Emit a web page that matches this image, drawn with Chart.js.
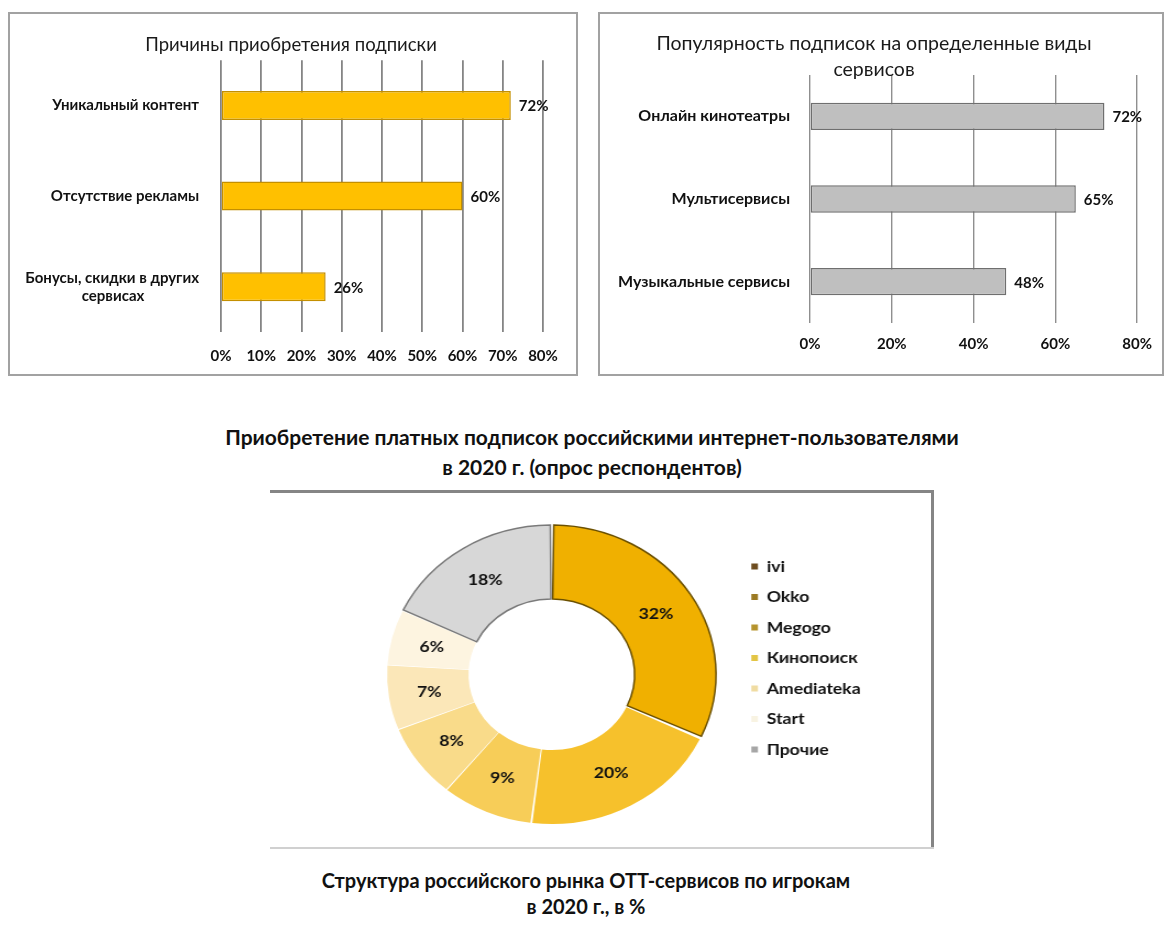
<!DOCTYPE html>
<html>
<head>
<meta charset="utf-8">
<script src="https://cdn.jsdelivr.net/npm/chart.js@4.4.1/dist/chart.umd.min.js"></script>
<style>
  html, body { margin: 0; padding: 0; background: #ffffff; }
  body { width: 1169px; height: 937px; position: relative; overflow: hidden; font-family: Lato, "Open Sans", sans-serif; color: #111; }
  .abs { position: absolute; }
  .panel { position: absolute; box-sizing: border-box; border: 2px solid #a2a2a2; }
  .heading { position: absolute; text-align: center; font-weight: bold; color: #111; }
</style>
</head>
<body>
<div class="panel" style="left:8px;top:12px;width:570px;height:364px;"></div>
<div class="panel" style="left:598px;top:12px;width:566px;height:364px;"></div>
<canvas id="reasons" class="abs" style="left:8px;top:12px;"></canvas>
<canvas id="services" class="abs" style="left:598px;top:12px;"></canvas>

<div id="midTitle" class="heading" style="left:92px;top:422px;width:1000px;font-size:21px;line-height:30px;"></div>
<div class="abs" style="left:270px;top:490px;width:664px;height:3px;background:#858585;"></div>
<div class="abs" style="left:931px;top:490px;width:3px;height:359px;background:#858585;"></div>
<div class="abs" style="left:270px;top:847px;width:664px;height:2px;background:#d0d0d0;"></div>
<canvas id="players" class="abs" style="left:270px;top:493px;transform:scaleX(1.1);transform-origin:282px 50%;"></canvas>
<div id="botTitle" class="heading" style="left:86px;top:867px;width:1000px;font-size:20px;line-height:26px;"></div>

<script>
// ---------------- data ----------------
const reasonTitle = 'Причины приобретения подписки';
const reasonCategories = ['Уникальный контент', 'Отсутствие рекламы', ['Бонусы, скидки в других', 'сервисах']];
const reasonValues = [72, 60, 26];
const reasonTicks = [0, 10, 20, 30, 40, 50, 60, 70, 80];

const serviceTitle = ['Популярность подписок на определенные виды', 'сервисов'];
const serviceCategories = ['Онлайн кинотеатры', 'Мультисервисы', 'Музыкальные сервисы'];
const serviceValues = [72, 65, 48];
const serviceTicks = [0, 20, 40, 60, 80];

const surveyHeading = ['Приобретение платных подписок российскими интернет-пользователями', 'в 2020 г. (опрос респондентов)'];
const playerLabels = ['ivi', 'Okko', 'Megogo', 'Кинопоиск', 'Amediateka', 'Start', 'Прочие'];
const playerShares = [32, 20, 9, 8, 7, 6, 18];
const marketHeading = ['Структура российского рынка ОТТ-сервисов по игрокам', 'в 2020 г., в %'];

// ---------------- styles ----------------
const FONT = 'Lato, "Open Sans", sans-serif';
const sliceColors = ['#f0b000', '#f6c12c', '#f7cd58', '#f9db8a', '#fbe7b8', '#fdf4e0', '#d7d7d7'];
const sliceBorders = ['#6b5000', '#ffffff', '#ffffff', '#ffffff', '#ffffff', '#ffffff', '#7a7a7a'];
const sliceBorderWidths = [1.5, 0, 0, 0, 0, 0, 1.5];
const legendSwatches = ['#6d4c1f', '#9b7a23', '#b5932c', '#e3c544', '#f0dca2', '#f8f3e2', '#a6a6a6'];

document.getElementById('midTitle').innerHTML = surveyHeading.join('<br>');
document.getElementById('botTitle').innerHTML = marketHeading.join('<br>');

Chart.defaults.font.family = FONT;
Chart.defaults.color = '#111';
Chart.defaults.animation = false;

const measureCtx = document.createElement('canvas').getContext('2d');
function centerLines(lines, font) {
  // pad shorter lines with trailing spaces so a right-aligned block looks centred
  measureCtx.font = font;
  const widths = lines.map(l => measureCtx.measureText(l).width);
  const maxW = Math.max(...widths);
  const sp = measureCtx.measureText('\u00A0').width;
  return lines.map((l, i) => l + '\u00A0'.repeat(Math.round((maxW - widths[i]) / 2 / sp)));
}

const barValueLabels = {
  id: 'barValueLabels',
  afterDatasetsDraw(chart, args, opts) {
    const ctx = chart.ctx;
    chart.data.datasets.forEach((ds, di) => {
      chart.getDatasetMeta(di).data.forEach((el, i) => {
        ctx.save();
        ctx.font = 'bold ' + opts.size + 'px ' + FONT;
        ctx.fillStyle = '#111';
        ctx.textAlign = 'left';
        ctx.textBaseline = 'middle';
        ctx.fillText(ds.data[i] + '%', el.x + opts.offset, el.y + 1);
        ctx.restore();
      });
    });
  }
};

const arcValueLabels = {
  id: 'arcValueLabels',
  afterDatasetsDraw(chart) {
    const ctx = chart.ctx;
    const ds = chart.data.datasets[0];
    chart.getDatasetMeta(0).data.forEach((el, i) => {
      const p = el.tooltipPosition();
      ctx.save();
      ctx.font = 'bold 16px ' + FONT;
      ctx.fillStyle = '#111';
      ctx.textAlign = 'center';
      ctx.textBaseline = 'middle';
      ctx.fillText(ds.data[i] + '%', p.x, p.y);
      ctx.restore();
    });
  }
};

function barChart(id, w, h, cfg) {
  const c = document.getElementById(id);
  c.width = w; c.height = h;
  return new Chart(c, {
    type: 'bar',
    data: {
      labels: cfg.categories,
      datasets: [{
        data: cfg.values,
        backgroundColor: cfg.fill,
        borderColor: cfg.stroke,
        borderWidth: 1.5,
        borderSkipped: false,
        categoryPercentage: 1,
        barPercentage: cfg.barPct
      }]
    },
    options: {
      indexAxis: 'y',
      responsive: false,
      animation: false,
      events: [],
      layout: { padding: cfg.padding },
      scales: {
        x: {
          min: 0, max: cfg.ticks[cfg.ticks.length - 1],
          afterBuildTicks: s => { s.ticks = cfg.ticks.map(v => ({ value: v })); },
          grid: { color: cfg.gridColor, lineWidth: cfg.gridWidth, drawTicks: false },
          border: { display: false },
          ticks: { padding: cfg.tickPad, maxRotation: 0, color: '#111', font: { size: 15, weight: 'bold' }, callback: v => v + '%' }
        },
        y: {
          grid: { display: false, drawTicks: false },
          border: { display: false },
          afterFit: s => { s.width = cfg.axisWidth; },
          ticks: {
            padding: cfg.labelPad, color: '#111', font: { size: cfg.labelSize, weight: 'bold' },
            callback: function (v) {
              const l = this.getLabelForValue(v);
              return Array.isArray(l) ? centerLines(l, 'bold ' + cfg.labelSize + 'px ' + FONT) : l;
            }
          }
        },
        // empty right-hand spacer so the chart title stays centred on the panel
        spacer: {
          axis: 'y', type: 'linear', position: 'right', display: cfg.spacer > 0,
          grid: { display: false, drawTicks: false }, border: { display: false },
          ticks: { display: false },
          afterFit: s => { s.width = cfg.spacer; }
        }
      },
      plugins: {
        legend: { display: false },
        tooltip: { enabled: false },
        title: {
          display: true, text: cfg.title, color: '#1a1a1a',
          font: { size: cfg.titleSize, weight: 'normal', lineHeight: cfg.titleLH },
          padding: cfg.titlePad
        },
        barValueLabels: { offset: 8, size: 15 }
      }
    },
    plugins: [barValueLabels]
  });
}

// x-axis height = label line height (18) + 2 * tick padding
barChart('reasons', 570, 363, {
  categories: reasonCategories, values: reasonValues, ticks: reasonTicks,
  fill: '#ffc000', stroke: '#c48f00', gridColor: '#858585', gridWidth: 1.8, barPct: 0.32,
  padding: { left: 4, right: 8, top: 0, bottom: -5 },
  axisWidth: 209, spacer: 27, labelPad: 22, labelSize: 15, tickPad: 15,
  title: reasonTitle, titleSize: 18.5, titleLH: 1.2, titlePad: { top: 22, bottom: 4 }
});

barChart('services', 566, 363, {
  categories: serviceCategories, values: serviceValues, ticks: serviceTicks,
  fill: '#bfbfbf', stroke: '#6f6f6f', gridColor: '#8f8f8f', gridWidth: 1.4, barPct: 0.33,
  padding: { left: 4, right: 18, top: 0, bottom: 10 },
  axisWidth: 208, spacer: 0, labelPad: 20, labelSize: 16, tickPad: 12,
  title: serviceTitle, titleSize: 19.5, titleLH: 26 / 19.5, titlePad: { top: 19, bottom: -8 }
});

(function () {
  const c = document.getElementById('players');
  c.width = 660; c.height = 354;
  new Chart(c, {
    type: 'doughnut',
    data: {
      labels: playerLabels,
      datasets: [{
        data: playerShares,
        backgroundColor: sliceColors,
        borderColor: sliceBorders,
        borderWidth: sliceBorderWidths,
        borderJoinStyle: 'miter',
        spacing: 3,
        radius: 148,
        clip: false
      }]
    },
    options: {
      responsive: false,
      animation: false,
      events: [],
      cutout: '50%',
      layout: { padding: { left: 114.5, right: 87.5, top: 51, bottom: 42 } },
      plugins: {
        tooltip: { enabled: false },
        legend: {
          position: 'right',
          align: 'start',
          labels: {
            boxWidth: 6, boxHeight: 6, padding: 14.5, color: '#111',
            font: { size: 16, weight: 'bold' },
            generateLabels(chart) {
              const items = Chart.overrides.doughnut.plugins.legend.labels.generateLabels(chart);
              items.forEach((it, i) => { it.fillStyle = legendSwatches[i]; it.strokeStyle = legendSwatches[i]; it.lineWidth = 0; });
              return items;
            }
          }
        }
      }
    },
    plugins: [arcValueLabels]
  });
})();
</script>
</body>
</html>
